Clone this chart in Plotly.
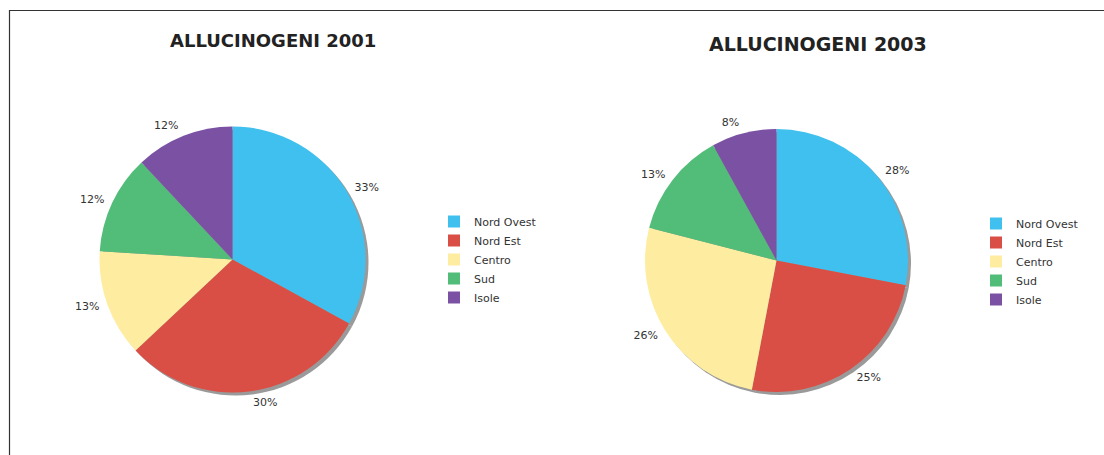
import plotly.graph_objects as go

W, H = 1104, 455

regions = ["Nord Ovest", "Nord Est", "Centro", "Sud", "Isole"]
values_2001 = [33, 30, 13, 12, 12]
values_2003 = [28, 25, 26, 13, 8]
titles = ["ALLUCINOGENI 2001", "ALLUCINOGENI 2003"]
colors = ["#3FC0EE", "#D94F45", "#FEEDA0", "#52BC79", "#7B52A3"]

FONT = "DejaVu Sans"

def dom(cx, cy, r, dx=0, dy=0):
    cx += dx
    cy += dy
    return dict(x=[(cx - r) / W, (cx + r) / W], y=[1 - (cy + r) / H, 1 - (cy - r) / H])

# pie labels are merged across traces in the legend; a zero-width suffix keeps the second legend separate
pies = [
    dict(vals=values_2001, labels=regions, cx=232.5, cy=259.5, r=133, legend="legend",
         title=titles[0], tx=273, ty=40, tsize=18),
    dict(vals=values_2003, labels=[r + "\u200b" for r in regions], cx=776.5, cy=260.5, r=131.5,
         legend="legend2", title=titles[1], tx=818, ty=44, tsize=19),
]

fig = go.Figure()
for p in pies:
    # shadow
    fig.add_trace(go.Pie(
        values=p["vals"], labels=p["labels"], sort=False, direction="clockwise", rotation=0,
        marker=dict(colors=["#9a9a9a"] * 5, line=dict(width=0)),
        textinfo="none", hoverinfo="skip", showlegend=False,
        domain=dom(p["cx"], p["cy"], p["r"], 3, 3),
    ))
    # invisible slightly larger pie carrying the outside percentage labels
    fig.add_trace(go.Pie(
        values=p["vals"], labels=p["labels"], sort=False, direction="clockwise", rotation=0,
        marker=dict(colors=["rgba(0,0,0,0)"] * 5, line=dict(width=0)),
        textinfo="percent", textposition="outside", texttemplate="%{percent:.0%}",
        outsidetextfont=dict(family=FONT, size=11, color="#333333"),
        hoverinfo="skip", showlegend=False,
        domain=dom(p["cx"], p["cy"], p["r"] + 5),
    ))
    fig.add_trace(go.Pie(
        values=p["vals"], labels=p["labels"], sort=False, direction="clockwise", rotation=0,
        marker=dict(colors=colors, line=dict(width=0)),
        textinfo="none",
        domain=dom(p["cx"], p["cy"], p["r"]),
        legend=p["legend"],
    ))

annotations = [
    dict(text="<b>%s</b>" % p["title"], x=p["tx"] / W, y=1 - p["ty"] / H, xref="paper", yref="paper",
         showarrow=False, xanchor="center", yanchor="middle",
         font=dict(family=FONT, size=p["tsize"], color="#222222"))
    for p in pies
]

legend_style = dict(font=dict(family=FONT, size=11, color="#333333"), bgcolor="rgba(0,0,0,0)",
                    itemwidth=30, tracegroupgap=0, xanchor="left", yanchor="top",
                    itemclick=False, itemdoubleclick=False)

fig.update_layout(
    width=W, height=H,
    margin=dict(l=0, r=0, t=0, b=0),
    paper_bgcolor="white", plot_bgcolor="white",
    annotations=annotations,
    legend=dict(x=434 / W, y=1 - 207 / H, **legend_style),
    legend2=dict(x=976 / W, y=1 - 209 / H, **legend_style),
    shapes=[dict(type="rect", xref="paper", yref="paper", x0=9.5 / W, x1=1.05, y0=-0.05, y1=1 - 10.5 / H,
                 line=dict(color="#333333", width=1.2), fillcolor="rgba(0,0,0,0)", layer="below")],
)

fig.write_html("out.html", config={"displayModeBar": False},
               post_script="document.body.style.margin='0';")
